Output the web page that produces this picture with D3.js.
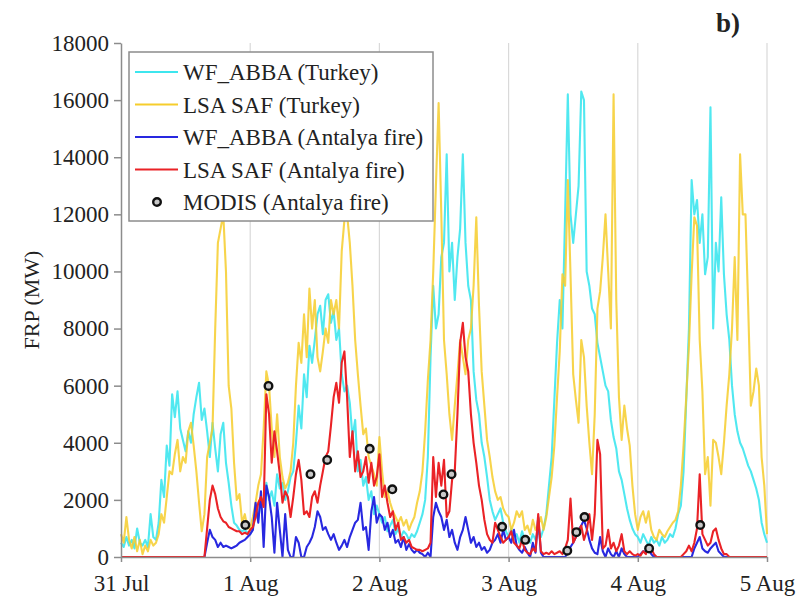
<!DOCTYPE html>
<html>
<head>
<meta charset="utf-8">
<script src="https://cdn.jsdelivr.net/npm/d3@7"></script>
<style>
    body { margin: 0; background: #fff; }
    svg { display: block; font-family: "Liberation Serif", "Times New Roman", serif; }
</style>
</head>
<body>
<div id="chart"></div>
<script>
// half-hourly FRP (MW), 31 Jul 00:00 -> 5 Aug 00:00
const wfTurkey = [
    500,350,700,400,600,300,1000,500,400,600,350,1500,700,600,1200,2700,2100,3900,3200,5700,4900,5800,4500,4100,3700,4400,4000,5000,5600,6100,4800,5200,4400,3500,4700,3800,3000,4300,4700,3300,2600,1800,1200,1100,950,900,950,850,
    800,1000,1600,1300,2100,1800,2600,2000,2300,1800,2900,2400,2600,2000,2300,2800,3000,4000,5300,4500,6400,5600,7400,6800,7600,8500,8800,7800,9000,9200,8200,8600,7600,8000,6400,5800,6000,5400,4200,4800,3000,3400,2500,2800,2000,2300,1500,1800,
    1500,1200,1400,900,1100,1300,800,1000,700,900,800,600,800,700,900,1200,1500,2000,3500,7000,9500,8000,8500,10500,11000,14100,10000,11000,9000,10500,11500,14100,11000,9500,9000,6500,5500,5000,4000,3500,2800,2000,1600,1300,1500,1700,1200,900,
    700,1000,600,800,500,900,600,700,500,800,600,900,700,1000,1500,2500,3500,5500,7500,9000,8000,12000,16200,12000,11000,12000,13000,16300,16000,10000,9500,8700,8500,7500,7000,6500,6000,5800,4800,4200,3800,3000,2700,2200,1700,1300,1000,800,
    700,500,800,600,400,700,500,600,400,700,500,600,800,700,1000,1500,1800,3000,5500,8000,13200,12000,12500,11000,12000,9900,10500,15750,8000,11000,10000,12600,9900,8500,7600,6000,5000,4400,4000,3800,3500,3200,3000,2700,2400,2000,1200,800,
    500
];
const lsaTurkey = [
    800,500,1400,600,300,700,200,600,100,400,200,600,400,500,800,1500,1200,2100,3000,2900,3600,4100,3000,3500,3300,4400,4700,3900,3000,1900,900,1500,3500,4000,4500,8000,11000,11500,12000,10000,6000,5200,3300,2000,2200,1200,1500,1000,
    1000,1400,1900,2500,2900,4500,6500,6000,4500,3500,5000,3500,2800,2400,2600,3000,4000,6000,7500,6800,8500,7000,9400,8000,9000,7000,6500,7200,8000,7500,9000,8500,9000,8000,10700,11800,12000,11000,9500,7600,6400,5300,4300,4500,3500,3200,2900,2500,
    4200,3000,2100,2300,1900,1600,1400,1200,1400,1100,1300,950,1200,1400,1900,2300,3000,4400,6200,7600,10000,13000,15900,12000,7600,6400,5000,4100,5300,6400,7600,7000,6400,7600,8000,9500,11900,8800,6500,5300,4100,3500,2800,2300,2000,2100,1700,1500,
    1400,950,1200,1600,1400,1600,950,1100,800,1300,950,1100,1400,950,1400,2100,2800,3900,5600,7200,9900,9500,13200,9900,6400,5500,4700,7600,7000,5300,4000,2900,5000,8700,9300,10500,12000,10000,8000,16200,9000,5600,4100,5300,4500,3900,2500,1500,
    950,1400,1600,1200,1600,950,700,600,950,800,700,900,1050,1200,1300,1600,2500,3900,5600,7400,9900,11900,11600,7600,5800,2900,3500,1800,4100,4000,3500,2900,4000,5300,6400,8000,10500,7600,14100,12000,12000,8800,5300,5800,6600,6000,3500,2500,
    800
];
const wfAntalya = [
    0,0,0,0,0,0,0,0,0,0,0,0,0,0,0,0,0,0,0,0,0,0,0,0,0,0,0,0,0,0,0,0,500,950,700,600,350,500,350,400,350,300,350,400,500,550,600,700,
    800,950,1900,1200,2300,350,2500,2100,1400,150,1900,950,0,1500,250,0,0,700,500,0,0,350,500,700,1050,1600,1400,950,1050,800,600,800,500,250,400,600,350,700,950,1200,1300,1900,950,1050,250,1600,2100,1200,
    1500,1400,950,1200,700,950,500,600,350,700,250,450,250,150,250,150,100,0,150,0,1400,1900,1600,1400,950,1300,700,950,500,250,700,950,1400,950,500,700,350,500,250,350,150,250,500,600,800,500,950,600,
    700,500,950,400,250,150,350,150,0,500,150,1400,150,0,0,0,0,0,0,0,0,0,150,350,500,700,950,1100,1300,1000,600,300,150,100,700,200,0,300,100,0,200,0,300,100,0,0,0,0,
    0,100,200,150,350,100,0,0,0,0,0,0,0,0,0,0,0,0,0,0,0,300,500,700,300,200,150,300,400,500,200,100,0,0,0,0,0,0,0,0,0,0,0,0,0,0,0,0,
    0
];
const lsaAntalya = [
    0,0,0,0,0,0,0,0,0,0,0,0,0,0,0,0,0,0,0,0,0,0,0,0,0,0,0,0,0,0,0,0,1000,2000,2500,2200,1700,1400,1250,1200,1050,1000,950,900,900,800,850,800,
    950,1050,1400,1900,2100,1750,5700,5000,3300,4400,3700,2900,1900,2300,2100,1400,2100,2900,3400,2700,1500,1600,1400,2100,2300,1900,2500,3000,3500,3700,4600,5600,6100,5400,6800,7200,5600,3500,4400,3000,3700,2800,3000,3500,2600,3300,2500,2800,
    3600,2100,2500,1900,1400,1600,950,1200,600,700,500,600,350,300,250,250,200,250,300,500,3500,2100,3300,2500,3400,1400,1600,2700,3000,5000,7500,8200,7000,6500,5000,4000,3300,2500,2000,1300,800,600,500,1200,950,700,500,600,
    700,900,500,400,300,600,250,150,100,300,200,1500,200,100,150,100,200,100,150,200,100,300,600,2050,500,700,900,1100,600,900,1500,600,1500,4100,3600,300,400,950,300,500,200,400,800,200,100,200,100,50,
    100,50,200,100,400,300,100,0,0,0,0,0,0,0,0,0,0,100,200,400,200,500,1000,2900,800,600,400,500,900,1000,600,300,100,100,0,0,0,0,0,0,0,0,0,0,0,0,0,0,
    0
];
// MODIS overpasses: hours after 31 Jul 00:00, FRP (MW)
const modisHours = [23.1, 27.4, 35.2, 38.3, 46.2, 50.4, 59.9, 61.4, 70.8, 75.1, 82.9, 84.6, 86.1, 98.1, 107.6];
const modisFrp = [1120, 5990, 2900, 3400, 3790, 2370, 2190, 2900, 1060, 600, 220, 870, 1400, 300, 1120];

const yTicks = [0, 2000, 4000, 6000, 8000, 10000, 12000, 14000, 16000, 18000];
const dayTicks = ['2008-07-31', '2008-08-01', '2008-08-02', '2008-08-03', '2008-08-04', '2008-08-05'];
const legendLabels = ['WF_ABBA (Turkey)', 'LSA SAF (Turkey)', 'WF_ABBA (Antalya fire)', 'LSA SAF (Antalya fire)', 'MODIS (Antalya fire)'];

const W = 805, H = 598;
const M = { top: 43, right: 38, bottom: 41, left: 121 };
const START = Date.UTC(2008, 6, 31);
const STEP = 30 * 60 * 1000;
const HOUR = 60 * 60 * 1000;
const SERIF = '"Liberation Serif", "Times New Roman", serif';

let svg = d3.select('#chart').append('svg')
    .attr('width', W)
    .attr('height', H);

let days = dayTicks.map(d => new Date(d + 'T00:00:00Z'));

let x = d3.scaleUtc()
    .domain([days[0], days[days.length - 1]])
    .range([M.left, W - M.right]);
let y = d3.scaleLinear()
    .domain([0, 18000])
    .range([H - M.bottom, M.top]);

// vertical day grid
svg.append('g')
    .selectAll('line')
    .data(days.slice(1))
    .join('line')
    .attr('x1', d => x(d)).attr('x2', d => x(d))
    .attr('y1', y(18000)).attr('y2', y(0))
    .attr('stroke', '#d9d9d9')
    .attr('stroke-width', 1.2);

let series = [
    { values: wfTurkey, color: '#3de6ee', width: 2.1, opacity: 0.9 },
    { values: lsaTurkey, color: '#f6cd2c', width: 2.1, opacity: 0.85 },
    { values: wfAntalya, color: '#2828e0', width: 2.1, opacity: 1 },
    { values: lsaAntalya, color: '#ea2226', width: 2.1, opacity: 1 }
];

let line = d3.line()
    .x((d, i) => x(new Date(START + i * STEP)))
    .y(d => y(d));

svg.append('g')
    .selectAll('path')
    .data(series)
    .join('path')
    .attr('d', s => line(s.values))
    .attr('fill', 'none')
    .attr('stroke', s => s.color)
    .attr('stroke-width', s => s.width)
    .attr('stroke-opacity', s => s.opacity)
    .attr('stroke-linejoin', 'round');

svg.append('g')
    .selectAll('circle')
    .data(modisHours)
    .join('circle')
    .attr('cx', h => x(new Date(START + h * HOUR)))
    .attr('cy', (h, i) => y(modisFrp[i]))
    .attr('r', 3.8)
    .attr('fill', '#c8c8c8')
    .attr('stroke', '#111')
    .attr('stroke-width', 2.4);

// axes
let yAxis = d3.axisLeft(y)
    .tickValues(yTicks)
    .tickFormat(d3.format('d'))
    .tickSize(7)
    .tickSizeOuter(0)
    .tickPadding(5);
let gY = svg.append('g')
    .attr('transform', 'translate(' + M.left + ',0)')
    .call(yAxis);

let xAxis = d3.axisBottom(x)
    .tickValues(days)
    .tickFormat(d3.utcFormat('%-d %b'))
    .tickSize(5)
    .tickSizeOuter(0)
    .tickPadding(13);
let gX = svg.append('g')
    .attr('transform', 'translate(0,' + (H - M.bottom) + ')')
    .call(xAxis);

[gX, gY].forEach(g => {
    g.attr('font-family', SERIF);
    g.select('.domain').attr('stroke', '#8c8c8c').attr('stroke-width', 1.5);
    g.selectAll('.tick line').attr('stroke', '#8c8c8c').attr('stroke-width', 1.5);
    g.selectAll('.tick text')
        .attr('fill', '#222')
        .style('font-family', SERIF)
        .style('font-size', '23px');
});

svg.append('text')
    .attr('transform', 'translate(31,300) rotate(-90)')
    .attr('text-anchor', 'middle')
    .attr('dy', '0.35em')
    .attr('fill', '#222')
    .style('font-size', '22px')
    .text('FRP (MW)');

svg.append('text')
    .attr('x', 716)
    .attr('y', 32)
    .attr('fill', '#222')
    .style('font-size', '27px')
    .style('font-weight', 'bold')
    .text('b)');

// legend
let legend = svg.append('g').attr('transform', 'translate(129,52)');
legend.append('rect')
    .attr('width', 304)
    .attr('height', 169)
    .attr('fill', '#fff')
    .attr('stroke', '#8c8c8c')
    .attr('stroke-width', 1.5);

let items = legend.selectAll('g.item')
    .data(legendLabels)
    .join('g')
    .attr('class', 'item')
    .attr('transform', (d, i) => 'translate(0,' + (20 + i * 32.5) + ')');

items.filter((d, i) => i < 4)
    .append('line')
    .attr('x1', 6).attr('x2', 49)
    .attr('stroke', (d, i) => series[i].color)
    .attr('stroke-width', 2.2);

items.filter((d, i) => i === 4)
    .append('circle')
    .attr('cx', 28)
    .attr('r', 3.8)
    .attr('fill', '#c8c8c8')
    .attr('stroke', '#111')
    .attr('stroke-width', 2.4);

items.append('text')
    .attr('x', 54)
    .attr('dy', '0.35em')
    .attr('fill', '#222')
    .style('font-size', '23px')
    .text(d => d);
</script>
</body>
</html>
